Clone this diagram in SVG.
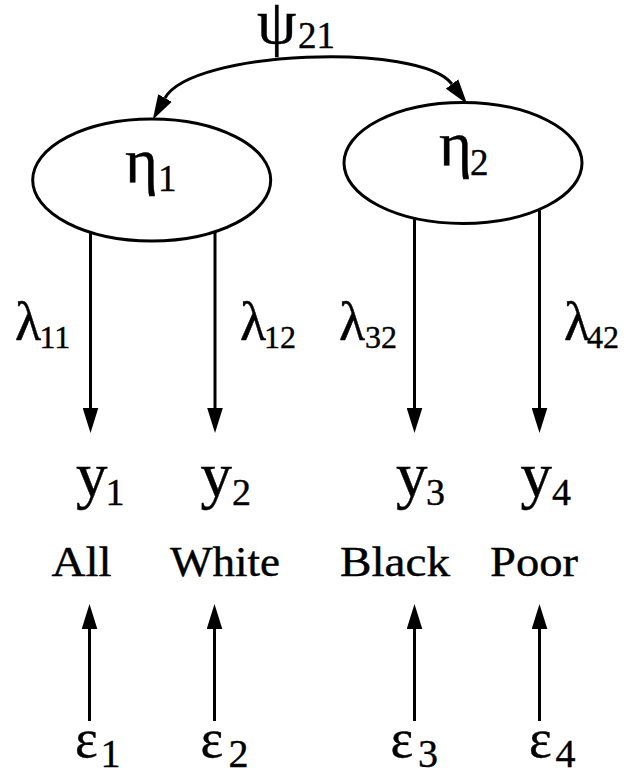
<svg xmlns="http://www.w3.org/2000/svg" width="629" height="775" viewBox="0 0 629 775">
<defs>
<marker id="ah" markerUnits="userSpaceOnUse" markerWidth="26" markerHeight="16" viewBox="0 -8 26 16" refX="0" refY="0" orient="auto-start-reverse">
<path d="M0,-7.8 L25,0 L0,7.8 z" fill="#000"/>
</marker>
</defs>
<style>
.t{font-family:"Liberation Serif","Times New Roman",serif;fill:#000;stroke:#000;stroke-width:0.4}
.node{fill:#fff;stroke:#000;stroke-width:3}
.edge{fill:none;stroke:#000;stroke-width:3}
</style>
<rect width="629" height="775" fill="#fff"/>
<g id="connectors">
<path class="edge" d="M165,98 C192,50 420,42 452,84" marker-start="url(#ah)" marker-end="url(#ah)"/>
<path class="edge" d="M90.5,232 V408" marker-end="url(#ah)"/>
<path class="edge" d="M215,232 V408" marker-end="url(#ah)"/>
<path class="edge" d="M414.5,218 V408" marker-end="url(#ah)"/>
<path class="edge" d="M539.5,210 V408" marker-end="url(#ah)"/>
<path class="edge" d="M89.5,721 V629" marker-end="url(#ah)"/>
<path class="edge" d="M214.5,721 V629" marker-end="url(#ah)"/>
<path class="edge" d="M414.5,721 V629" marker-end="url(#ah)"/>
<path class="edge" d="M539.5,721 V629" marker-end="url(#ah)"/>
</g>
<g id="psi21"><text class="t" y="43"><tspan x="257" font-size="63">ψ</tspan><tspan x="298" y="48" font-size="37">21</tspan></text></g>
<g id="eta1">
<ellipse class="node" cx="151.7" cy="180" rx="119" ry="61"/>
<text class="t" y="182"><tspan x="125" font-size="63">η</tspan><tspan x="158" y="191" font-size="37">1</tspan></text>
</g>
<g id="eta2">
<ellipse class="node" cx="463" cy="163" rx="119" ry="60.5"/>
<text class="t" y="165"><tspan x="439" font-size="63">η</tspan><tspan x="470" y="175" font-size="37">2</tspan></text>
</g>
<g id="lambda-labels">
<text class="t" y="340"><tspan x="15" font-size="54">λ</tspan><tspan x="39.5" y="348" font-size="32">11</tspan></text>
<text class="t" y="340"><tspan x="240" font-size="54">λ</tspan><tspan x="264" y="348" font-size="32">12</tspan></text>
<text class="t" y="340"><tspan x="339" font-size="54">λ</tspan><tspan x="365" y="348" font-size="32">32</tspan></text>
<text class="t" y="340"><tspan x="564" font-size="54">λ</tspan><tspan x="587" y="348" font-size="32">42</tspan></text>
</g>
<g id="y1">
<text class="t" y="496"><tspan x="76" font-size="63">y</tspan><tspan x="105.5" y="505" font-size="38">1</tspan></text>
<text class="t" x="51.5" y="575.5" font-size="42" textLength="60" lengthAdjust="spacingAndGlyphs">All</text>
</g>
<g id="y2">
<text class="t" y="496"><tspan x="200.5" font-size="63">y</tspan><tspan x="232" y="505" font-size="38">2</tspan></text>
<text class="t" x="170" y="575.5" font-size="42" textLength="110" lengthAdjust="spacingAndGlyphs">White</text>
</g>
<g id="y3">
<text class="t" y="496"><tspan x="396" font-size="63">y</tspan><tspan x="426" y="505" font-size="38">3</tspan></text>
<text class="t" x="340" y="575.5" font-size="42" textLength="110" lengthAdjust="spacingAndGlyphs">Black</text>
</g>
<g id="y4">
<text class="t" y="496"><tspan x="520.5" font-size="63">y</tspan><tspan x="552" y="505" font-size="38">4</tspan></text>
<text class="t" x="490" y="575.5" font-size="42" textLength="88" lengthAdjust="spacingAndGlyphs">Poor</text>
</g>
<g id="e1"><text class="t" y="757"><tspan x="75" font-size="54">ε</tspan><tspan x="100.5" y="767" font-size="40">1</tspan></text></g>
<g id="e2"><text class="t" y="757"><tspan x="200.5" font-size="54">ε</tspan><tspan x="228.5" y="767" font-size="40">2</tspan></text></g>
<g id="e3"><text class="t" y="757"><tspan x="390.5" font-size="54">ε</tspan><tspan x="418" y="767" font-size="40">3</tspan></text></g>
<g id="e4"><text class="t" y="757"><tspan x="529" font-size="54">ε</tspan><tspan x="555.5" y="767" font-size="40">4</tspan></text></g>
</svg>
